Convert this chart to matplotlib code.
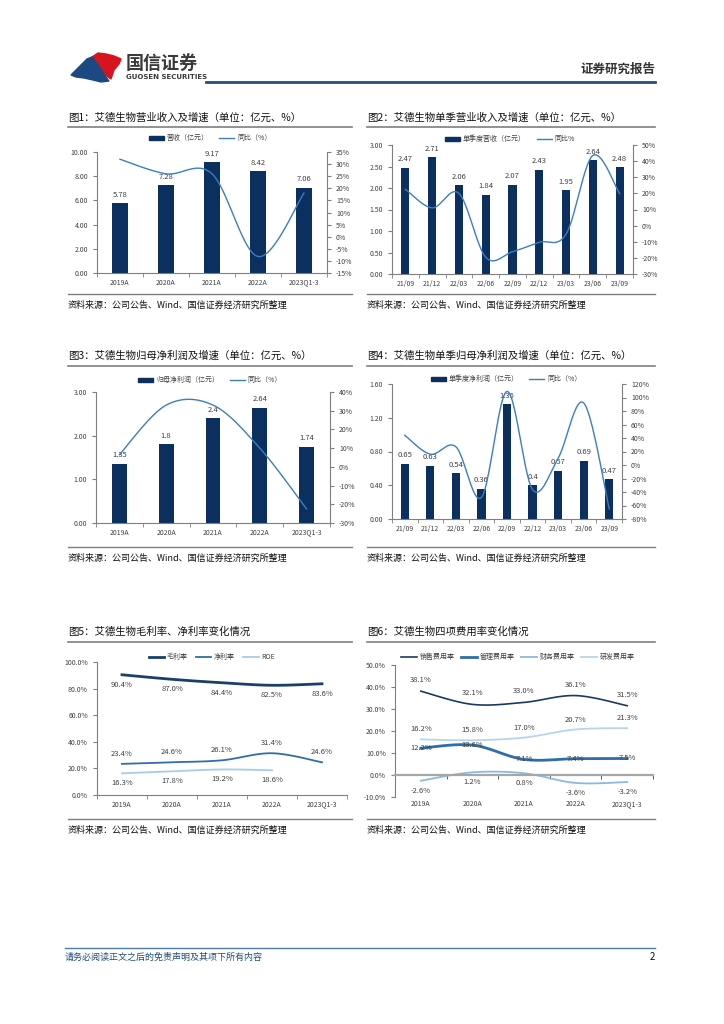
import matplotlib
matplotlib.use('Agg')
import matplotlib.pyplot as plt
import numpy as np
from matplotlib.patches import Polygon, Patch
from matplotlib.lines import Line2D
from matplotlib.ticker import FuncFormatter, FixedLocator

plt.rcParams['font.family'] = ['Noto Sans CJK SC', 'DejaVu Sans']

W, H = 724, 1024

# ---- data ----
years = ['2019A', '2020A', '2021A', '2022A', '2023Q1-3']
quarters = ['21/09', '21/12', '22/03', '22/06', '22/09', '22/12', '23/03', '23/06', '23/09']

revenue = [5.78, 7.28, 9.17, 8.42, 7.06]
revenue_yoy = [32.0, 26.0, 26.0, -8.2, 18.0]

q_revenue = [2.47, 2.71, 2.06, 1.84, 2.07, 2.43, 1.95, 2.64, 2.48]
q_revenue_yoy = [22.5, 11.0, 20.0, -19.6, -16.2, -10.3, -5.3, 43.5, 19.8]

net_profit = [1.35, 1.8, 2.4, 2.64, 1.74]
net_profit_yoy = [6.5, 33.0, 33.0, 10.0, -22.5]

q_profit = [0.65, 0.63, 0.54, 0.36, 1.36, 0.4, 0.57, 0.69, 0.47]
q_profit_yoy = [44.0, 16.0, 27.0, -48.0, 109.0, -36.5, 10.0, 92.0, -65.0]

gross_margin = [90.4, 87.0, 84.4, 82.5, 83.6]
net_margin = [23.4, 24.6, 26.1, 31.4, 24.6]
roe = [16.3, 17.8, 19.2, 18.6]

sales_rate = [38.1, 32.1, 33.0, 36.1, 31.5]
admin_rate = [12.2, 13.6, 7.1, 7.4, 7.5]
fin_rate = [-2.6, 1.2, 0.8, -3.6, -3.2]
rd_rate = [16.2, 15.8, 17.0, 20.7, 21.3]

BAR = '#0B2F5E'
LINE = '#3C7DC2'
GRAY = '#404040'


def fx(x):
    return x / W


def fy(y):
    return 1 - y / H


def add_ax(x0, y0, x1, y1):
    return fig.add_axes([fx(x0), fy(y1), (x1 - x0) / W, (y1 - y0) / H])


def smooth(x, y, n=24):
    # Catmull-Rom style smoothing like an Excel "smoothed line"
    x = np.asarray(x, float)
    y = np.asarray(y, float)
    px = np.concatenate([[x[0]], x, [x[-1]]])
    py = np.concatenate([[y[0]], y, [y[-1]]])
    xs, ys = [], []
    for i in range(len(x) - 1):
        t = np.linspace(0, 1, n, endpoint=(i == len(x) - 2))
        for a, b in ((xs, px[i:i + 4]), (ys, py[i:i + 4])):
            q0, q1, q2, q3 = b
            a.extend(0.5 * ((2 * q1) + (-q0 + q2) * t + (2 * q0 - 5 * q1 + 4 * q2 - q3) * t ** 2
                            + (-q0 + 3 * q1 - 3 * q2 + q3) * t ** 3))
    return np.array(xs), np.array(ys)


def style_axis(ax, n):
    for s in ['top', 'right']:
        ax.spines[s].set_visible(False)
    for s in ['left', 'bottom']:
        ax.spines[s].set_color('#7f7f7f')
        ax.spines[s].set_linewidth(0.8)
    ax.set_xlim(-0.5, n - 0.5)
    ax.xaxis.set_minor_locator(FixedLocator(np.arange(-0.5, n, 1.0)))
    ax.tick_params(axis='x', which='major', length=0, labelsize=5, colors=GRAY, pad=4)
    ax.tick_params(axis='x', which='minor', length=3, color='#7f7f7f', direction='out')
    ax.tick_params(axis='y', length=3, labelsize=5, colors=GRAY, color='#7f7f7f', direction='out')


def bar_line_chart(box, cats, bars, yoy, ylim, ystep, y2lim, y2step, width, labels, legend_xy, vfmt):
    ax = add_ax(*box)
    x = np.arange(len(cats))
    ax.bar(x, bars, width=width, color=BAR, zorder=2)
    style_axis(ax, len(cats))
    ax.set_xticks(x)
    ax.set_xticklabels(cats)
    ax.set_ylim(*ylim)
    ax.set_yticks(np.arange(ylim[0], ylim[1] + 1e-9, ystep))
    ax.yaxis.set_major_formatter(FuncFormatter(lambda v, p: f'{v:.2f}'))
    for xi, v in zip(x, bars):
        ax.text(xi, v + (ylim[1] - ylim[0]) * 0.035, vfmt(v),
                ha='center', va='bottom', fontsize=5.5, color=GRAY)
    ax2 = ax.twinx()
    sx, sy = smooth(x, yoy)
    ax2.plot(sx, sy, color=LINE, lw=1.0, zorder=3)
    ax2.set_ylim(*y2lim)
    ax2.set_yticks(np.arange(y2lim[0], y2lim[1] + 1e-9, y2step))
    ax2.yaxis.set_major_formatter(FuncFormatter(lambda v, p: f'{v:.0f}%'))
    for s in ['top', 'left', 'bottom']:
        ax2.spines[s].set_visible(False)
    ax2.spines['right'].set_color('#7f7f7f')
    ax2.spines['right'].set_linewidth(0.8)
    ax2.tick_params(axis='y', length=3, labelsize=5, colors=GRAY, color='#7f7f7f', direction='out')
    handles = [Patch(color=BAR), Line2D([], [], color=LINE, lw=1.0)]
    fig.legend(handles, labels, loc='center', bbox_to_anchor=(fx(legend_xy[0]), fy(legend_xy[1])),
               ncol=2, frameon=False, fontsize=5, labelcolor=GRAY, handlelength=2.2,
               handleheight=0.5, columnspacing=1.5, handletextpad=0.4)
    return ax


def two_dec(v):
    return f'{v:.2f}'


def short(v):
    return f'{v:g}'


def header_block(x0, x1, y_title, y_line, title):
    fig.text(fx(x0), fy(y_title), title, fontsize=7.5, va='center', ha='left', color='#111111')
    fig.add_artist(Line2D([fx(x0), fx(x1)], [fy(y_line), fy(y_line)], color='#7f7f7f', lw=1.2))


def source(x0, y):
    fig.text(fx(x0), fy(y), '资料来源：公司公告、Wind、国信证券经济研究所整理', fontsize=6.5,
             va='center', ha='left', color='#111111')


fig = plt.figure(figsize=(W / 100, H / 100), dpi=100)
fig.patch.set_facecolor('white')

# ---- page header ----
red = [(92, 57), (98, 53), (106, 54), (114, 56), (121, 59), (119, 64), (114, 70), (111, 79),
       (105, 75), (101, 68), (96, 62)]
blue = [(71, 75), (79, 67), (87, 59), (92, 57), (96, 62), (101, 69), (105, 76), (109, 81),
        (101, 82), (93, 80), (84, 78), (76, 77)]
fig.add_artist(Polygon([(fx(a), fy(b)) for a, b in red], closed=True, color='#D7141E',
                       transform=fig.transFigure))
fig.add_artist(Polygon([(fx(a), fy(b)) for a, b in blue], closed=True, color='#1B4A82',
                       transform=fig.transFigure))
fig.text(fx(126), fy(63), '国信证券', fontsize=13, fontweight='bold', color='#3a3a3a', va='center')
fig.text(fx(126), fy(77), 'GUOSEN SECURITIES', fontsize=5, fontweight='bold', color='#3a3a3a',
         va='center', family='DejaVu Sans')
fig.add_artist(Line2D([fx(206), fx(655)], [fy(82), fy(82)], color='#1F4E79', lw=2.0))
fig.text(fx(655), fy(69), '证券研究报告', fontsize=9, fontweight='bold', color='#333333',
         ha='right', va='center')

# ---- titles ----
header_block(68, 352, 118, 127, '图1：艾德生物营业收入及增速（单位：亿元、%）')
header_block(367, 655, 118, 127, '图2：艾德生物单季营业收入及增速（单位：亿元、%）')
header_block(68, 352, 356, 366, '图3：艾德生物归母净利润及增速（单位：亿元、%）')
header_block(367, 655, 356, 366, '图4：艾德生物单季归母净利润及增速（单位：亿元、%）')
header_block(68, 352, 632, 642, '图5：艾德生物毛利率、净利率变化情况')
header_block(367, 655, 632, 642, '图6：艾德生物四项费用率变化情况')

# source lines
for yl, ys in ((294, 305), (547, 558), (819, 830)):
    fig.add_artist(Line2D([fx(68), fx(352)], [fy(yl), fy(yl)], color='#7f7f7f', lw=1.0))
    fig.add_artist(Line2D([fx(367), fx(655)], [fy(yl), fy(yl)], color='#7f7f7f', lw=1.0))
    source(68, ys)
    source(367, ys)

# ---- chart 1 ----
bar_line_chart((97, 152, 327, 273), years, revenue, revenue_yoy, (0, 10), 2,
               (-15, 35), 5, 0.33, ['营收（亿元）', '同比（%）'], (210, 138), two_dec)

# ---- chart 2 ----
bar_line_chart((392, 145, 633, 274), quarters, q_revenue, q_revenue_yoy, (0, 3), 0.5,
               (-30, 50), 10, 0.3, ['单季度营收（亿元）', '同比%'], (510, 139), two_dec)

# ---- chart 3 ----
bar_line_chart((96, 392, 330, 523), years, net_profit, net_profit_yoy, (0, 3), 1,
               (-30, 40), 10, 0.32, ['归母净利润（亿元）', '同比（%）'], (210, 380), short)

# ---- chart 4 ----
bar_line_chart((392, 384, 622, 519), quarters, q_profit, q_profit_yoy, (0, 1.6), 0.4,
               (-80, 120), 20, 0.32, ['单季度净利润（亿元）', '同比（%）'], (506, 379), short)

# ---- chart 5 ----
ax5 = add_ax(97, 662, 347, 795)
style_axis(ax5, 5)
x = np.arange(5)
c_gm, c_nm, c_roe = '#1B3F6B', '#2F6EAA', '#A9CBEA'
for vals, col, lw, off in ((gross_margin, c_gm, 2.0, -1), (net_margin, c_nm, 1.3, 1), (roe, c_roe, 1.3, -1)):
    xi = np.arange(len(vals))
    sx, sy = smooth(xi, vals)
    ax5.plot(sx, sy, color=col, lw=lw)
    for a, v in zip(xi, vals):
        ax5.text(a, v + off * 7.5, f'{v:.1f}%', ha='center', va='center', fontsize=5.5, color=GRAY)
ax5.set_xticks(x)
ax5.set_xticklabels(years)
ax5.set_ylim(0, 100)
ax5.set_yticks(np.arange(0, 101, 20))
ax5.yaxis.set_major_formatter(FuncFormatter(lambda v, p: f'{v:.1f}%'))
h5 = [Line2D([], [], color=c_gm, lw=2.0), Line2D([], [], color=c_nm, lw=1.3),
      Line2D([], [], color=c_roe, lw=1.3)]
fig.legend(h5, ['毛利率', '净利率', 'ROE'], loc='center', bbox_to_anchor=(fx(212), fy(657)),
           ncol=3, frameon=False, fontsize=5, labelcolor=GRAY, handlelength=2.2,
           columnspacing=1.2, handletextpad=0.4)

# ---- chart 6 ----
ax6 = add_ax(395, 665, 653, 797)
style_axis(ax6, 5)
ax6.spines['bottom'].set_position(('data', 0))
ax6.spines['bottom'].set_color('#a6a6a6')
ax6.spines['bottom'].set_linewidth(1.6)
ax6.tick_params(axis='x', which='major', length=0, pad=18)
ax6.tick_params(axis='x', which='minor', length=3, color='#404040', direction='out')
c_s, c_a, c_f, c_r = '#1B3A63', '#2E6DAA', '#8DB8E0', '#B7D4EF'
series6 = ((sales_rate, c_s, 1.2, 5.0), (admin_rate, c_a, 2.0, 0.0),
           (fin_rate, c_f, 1.3, -4.5), (rd_rate, c_r, 1.3, 4.5))
for vals, col, lw, off in series6:
    sx, sy = smooth(x, vals)
    ax6.plot(sx, sy, color=col, lw=lw)
    for a, v in zip(x, vals):
        ax6.text(a, v + off, f'{v:.1f}%', ha='center', va='center', fontsize=5.5, color=GRAY)
ax6.set_xticks(x)
ax6.set_xticklabels(years)
ax6.set_ylim(-10, 50)
ax6.set_yticks(np.arange(-10, 51, 10))
ax6.yaxis.set_major_formatter(FuncFormatter(lambda v, p: f'{v:.1f}%'))
h6 = [Line2D([], [], color=c, lw=l) for _, c, l, _ in series6]
fig.legend(h6, ['销售费用率', '管理费用率', '财务费用率', '研发费用率'], loc='center',
           bbox_to_anchor=(fx(518), fy(657)), ncol=4, frameon=False, fontsize=5,
           labelcolor=GRAY, handlelength=2.2, columnspacing=1.0, handletextpad=0.4)

# ---- footer ----
fig.add_artist(Line2D([fx(65), fx(655)], [fy(948), fy(948)], color='#4F7BA8', lw=1.0))
fig.text(fx(65), fy(957), '请务必阅读正文之后的免责声明及其项下所有内容', fontsize=6.5,
         style='italic', color='#1F4E79', va='center')
fig.text(fx(655), fy(957), '2', fontsize=7, color='#111111', ha='right', va='center')

fig.savefig('out.png', dpi=100, facecolor='white')
